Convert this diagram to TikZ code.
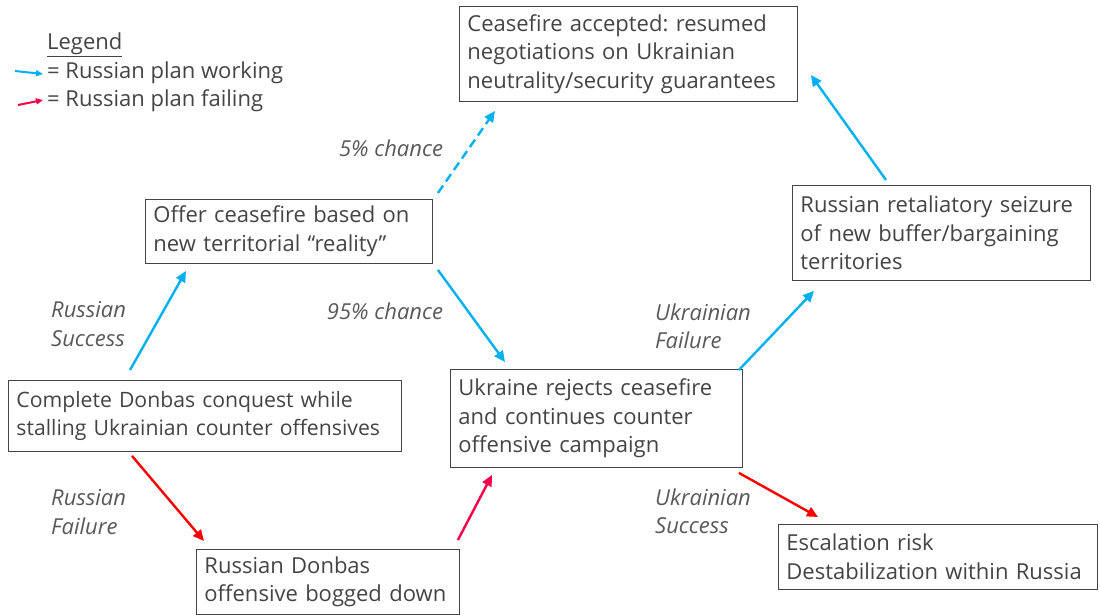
\documentclass[tikz,border=0pt]{standalone}
\usepackage{fontspec}
\setmainfont{Open Sans}
\usetikzlibrary{arrows.meta,calc}
\definecolor{txt}{HTML}{444444}
\definecolor{lbl}{HTML}{595959}
\definecolor{bl}{HTML}{00B0F0}
\definecolor{rd}{HTML}{FF0000}
\definecolor{pk}{HTML}{F5004A}
\tikzset{
  box/.style={draw=txt, line width=0.9pt, anchor=north west, align=left, inner xsep=8pt, inner ysep=0pt, text=txt, font=\fontsize{22}{28.5}\selectfont},
  lab/.style={text=lbl, align=left, anchor=west, inner sep=0pt, font=\fontsize{22}{28.5}\selectfont\itshape},
  leg/.style={text=txt, align=left, anchor=west, inner sep=0pt, font=\fontsize{22}{28.5}\selectfont},
  arr/.style={line width=2.4pt, -{Triangle[length=11pt,width=10pt]}},
}
\frenchspacing
\hyphenpenalty=10000
\exhyphenpenalty=10000
\begin{document}
\begin{tikzpicture}[x=1pt,y=-1pt]
\useasboundingbox (0,0) rectangle (1100,615);
% boxes
\node[box, text width=322pt, minimum height=95pt] (acc) at (459,6) {Ceasefire accepted: resumed\\negotiations on Ukrainian\\neutrality/security guarantees};
\node[box, text width=271pt, minimum height=64pt] (off) at (145,199) {Offer ceasefire based on\\new territorial \textquotedblleft reality\textquotedblright};
\node[box, text width=377pt, minimum height=71pt, font=\fontsize{21.2}{28.5}\selectfont] (comp) at (8,380) {Complete Donbas conquest while\\stalling Ukrainian counter offensives};
\node[box, text width=247pt, minimum height=65pt] (bog) at (196,549) {Russian Donbas\\offensive bogged down};
\node[box, text width=276pt, minimum height=98pt] (rej) at (450,369) {Ukraine rejects ceasefire\\and continues counter\\offensive campaign};
\node[box, text width=282pt, minimum height=95pt] (ret) at (792,185) {Russian retaliatory seizure\\of new buffer/bargaining\\territories};
\node[box, text width=303pt, minimum height=65pt] (esc) at (778,524) {Escalation risk\\Destabilization within Russia};
% labels
\node[lab, anchor=center] (l5) at (391,148) {5\% chance};
\node[lab, anchor=center] (l95) at (385,311) {95\% chance};
\node[lab] (lrs) at (51,324) {Russian\\Success};
\node[lab] (lrf) at (51,512) {Russian\\Failure};
\node[lab] (luf) at (655,326) {Ukrainian\\Failure};
\node[lab] (lus) at (655,511) {Ukrainian\\Success};
% arrows
\draw[arr, bl] ($(comp.north west)+(122,-10)$) -- ($(off.south west)+(41,7)$);
\draw[arr, bl] ($(off.south east)+(5,6)$) -- ($(rej.north west)+(55,-7)$);
\draw[arr, bl, dashed, dash pattern=on 9pt off 5pt] ($(off.north east)+(5,-6)$) -- ($(acc.south west)+(36,9)$);
\draw[arr, rd] ($(comp.south west)+(124,4)$) -- ($(bog.north west)+(8,-8)$);
\draw[arr, pk] ($(bog.north east)+(-2,-9)$) -- ($(rej.south west)+(42,7)$);
\draw[arr, bl] ($(rej.north east)+(-4,1)$) -- ($(ret.south west)+(22,10)$);
\draw[arr, bl] ($(ret.north west)+(94,-5)$) -- ($(acc.north east)+(13,69)$);
\draw[arr, rd] ($(rej.south east)+(-4,5)$) -- ($(esc.north west)+(40,-7)$);
% legend
\node[leg] (lg) at (47,45) {\underline{Legend}};
\node[leg] (lw) at (47,73) {= Russian plan working};
\node[leg] (lf) at (47,101) {= Russian plan failing};
\coordinate (bw) at (15,71);
\coordinate (rw) at (18,105);
\draw[bl, line width=2pt, -{Triangle[length=7pt,width=6pt]}] (bw) -- ($(lw.west)+(-4,1)$);
\draw[pk, line width=2pt, -{Triangle[length=7pt,width=6pt]}] (rw) -- ($(lf.west)+(-4,-1)$);
\end{tikzpicture}
\end{document}
